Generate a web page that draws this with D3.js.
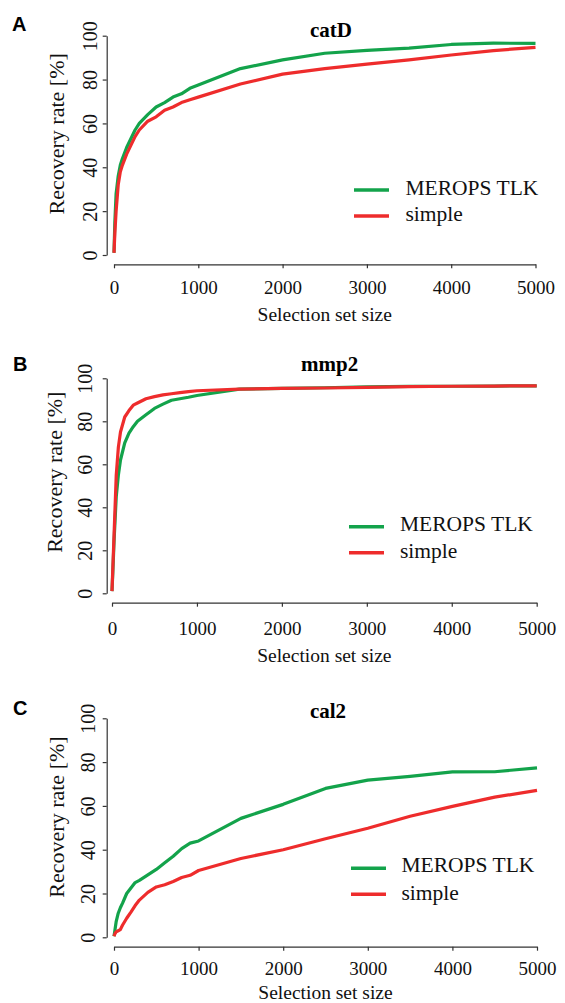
<!DOCTYPE html>
<html>
<head>
<meta charset="utf-8">
<script src="https://cdn.jsdelivr.net/npm/d3@7"></script>
<style>
  html, body { margin: 0; padding: 0; background: #fff; }
  svg { display: block; }
  .serif { font-family: "Liberation Serif", "Times New Roman", Times, serif; }
  .sans { font-family: "Liberation Sans", Arial, Helvetica, sans-serif; }
</style>
</head>
<body>
<svg id="chart" width="565" height="1003"></svg>
<script>
// ---------------- DATA ----------------
const setSizes = [0, 10, 25, 50, 75, 100, 150, 200, 250, 300, 400, 500, 600, 700, 800, 900, 1000, 1500, 2000, 2500, 3000, 3500, 4000, 4500, 5000];

const catD_merops = [1, 15, 28, 36, 41, 44, 49, 53, 57, 60, 64, 67.5, 69.5, 72, 73.5, 76, 77.5, 85, 89, 92, 93.3, 94.3, 96, 96.6, 96.5];
const catD_simple = [1, 10, 20, 32, 38, 41, 46, 50, 54, 57, 61, 63, 66, 67.5, 69.5, 70.8, 72, 78, 82.5, 85, 87, 89, 91.2, 93.2, 94.7];

const mmp2_merops = [1, 10, 25, 45, 55, 62, 70, 74.5, 77.5, 80, 83, 86, 88, 89.8, 90.5, 91.2, 92, 95, 95.3, 95.6, 96, 96.2, 96.3, 96.4, 96.5];
const mmp2_simple = [1, 12, 28, 55, 68, 75, 82, 85, 87.5, 88.5, 90.5, 91.5, 92.3, 92.8, 93.3, 93.8, 94.2, 95, 95.3, 95.5, 95.8, 96.1, 96.3, 96.4, 96.5];

const cal2_merops = [0.5, 3, 7, 11, 13.5, 15.5, 20, 22.5, 25, 26, 28.5, 31, 34, 37, 40.5, 43, 44, 54.3, 60.7, 68, 71.8, 73.5, 75.5, 75.6, 77.4];
const cal2_simple = [0.5, 1.5, 2.5, 3, 3.5, 5.5, 8.7, 11.5, 14.5, 17, 20.5, 23, 24, 25.5, 27.3, 28.3, 30.5, 36, 40, 45, 49.8, 55.3, 59.8, 64, 67.1];

const xTicks = [0, 1000, 2000, 3000, 4000, 5000];
const yTicks = [0, 20, 40, 60, 80, 100];
const seriesNames = ["MEROPS TLK", "simple"];
const panelLetters = ["A", "B", "C"];
const panelTitles = ["catD", "mmp2", "cal2"];
const xLabel = "Selection set size";
const yLabel = "Recovery rate [%]";

// ---------------- STYLE / LAYOUT ----------------
const colors = ["#13a34b", "#ee2c2c"];
const axisColor = "#333";

const layouts = [
  { x: [114, 535.5], y: [255, 35.7], xAxisY: 264.3, yAxisX: 106.7, xTickBase: 294.5, xLabBase: 321,
    yTickBase: 96.5, yLabBase: 64.3, yLabMid: 133.8, titleX: 331, titleBase: 36.7, letter: [12, 31],
    leg: { x1: 354, x2: 389, y: [190, 216], tx: 405.5, tb: [194.5, 221] } },
  { x: [112, 536.7], y: [593.3, 378.3], xAxisY: 602.7, yAxisX: 106.7, xTickBase: 635, xLabBase: 662,
    yTickBase: 91.5, yLabBase: 61.7, yLabMid: 472.2, titleX: 329.6, titleBase: 370.5, letter: [13, 371],
    leg: { x1: 349, x2: 384, y: [526.7, 552.7], tx: 400, tb: [530.5, 558] } },
  { x: [114, 537], y: [937.3, 718.3], xAxisY: 946.7, yAxisX: 106.7, xTickBase: 975, xLabBase: 998.5,
    yTickBase: 95, yLabBase: 64, yLabMid: 817, titleX: 328, titleBase: 718, letter: [13, 715],
    leg: { x1: 351, x2: 386, y: [868.3, 894.3], tx: 401.5, tb: [872, 899.5] } }
];

const panelSeries = [
  [catD_merops, catD_simple],
  [mmp2_merops, mmp2_simple],
  [cal2_merops, cal2_simple]
];

const svg = d3.select("#chart");

layouts.forEach((L, i) => {
  const g = svg.append("g");
  const x = d3.scaleLinear().domain([0, 5000]).range(L.x);
  const y = d3.scaleLinear().domain([0, 100]).range(L.y);

  // X axis
  const xAx = g.append("g")
    .attr("transform", `translate(0,${L.xAxisY})`)
    .call(d3.axisBottom(x).tickValues(xTicks).tickSize(4).tickSizeOuter(0).tickFormat(d3.format("d")));
  xAx.attr("font-family", null).attr("font-size", null);
  xAx.select(".domain").attr("stroke", axisColor).attr("stroke-width", 1.2).attr("fill", "none");
  xAx.selectAll(".tick line").attr("stroke", axisColor).attr("stroke-width", 1.2);
  xAx.selectAll(".tick text")
    .attr("y", L.xTickBase - L.xAxisY).attr("dy", null)
    .attr("class", "serif").style("font-size", "19px").attr("fill", "#111");

  // Y axis
  const yAx = g.append("g")
    .attr("transform", `translate(${L.yAxisX},0)`)
    .call(d3.axisLeft(y).tickValues(yTicks).tickSize(4).tickSizeOuter(0));
  yAx.attr("font-family", null).attr("font-size", null);
  yAx.select(".domain").attr("stroke", axisColor).attr("stroke-width", 1.2).attr("fill", "none");
  yAx.selectAll(".tick line").attr("stroke", axisColor).attr("stroke-width", 1.2);
  yAx.selectAll(".tick text")
    .attr("x", null).attr("dy", null)
    .attr("text-anchor", "middle")
    .attr("transform", `translate(${L.yTickBase - L.yAxisX},0) rotate(-90)`)
    .attr("class", "serif").style("font-size", "20px").attr("fill", "#111");

  // Lines
  const line = d3.line().x((d, k) => x(setSizes[k])).y(d => y(d));
  panelSeries[i].forEach((vals, s) => {
    g.append("path").datum(vals)
      .attr("d", line)
      .attr("fill", "none")
      .attr("stroke", colors[s])
      .attr("stroke-width", 3.2)
      .attr("stroke-linejoin", "round")
      .attr("stroke-linecap", "butt");
  });

  // Labels
  g.append("text").attr("x", (L.x[0] + L.x[1]) / 2).attr("y", L.xLabBase)
    .attr("text-anchor", "middle").attr("class", "serif").style("font-size", "19.5px")
    .attr("fill", "#111").text(xLabel);

  g.append("text")
    .attr("transform", `translate(${L.yLabBase},${L.yLabMid}) rotate(-90)`)
    .attr("text-anchor", "middle").attr("class", "serif").style("font-size", "22px")
    .attr("fill", "#111").text(yLabel);

  g.append("text").attr("x", L.titleX).attr("y", L.titleBase)
    .attr("text-anchor", "middle").attr("class", "serif").style("font-weight", "bold")
    .style("font-size", "21px").attr("fill", "#000").text(panelTitles[i]);

  g.append("text").attr("x", L.letter[0]).attr("y", L.letter[1])
    .attr("class", "sans").style("font-weight", "bold")
    .style("font-size", "20px").attr("fill", "#000").text(panelLetters[i]);

  // Legend
  seriesNames.forEach((name, s) => {
    g.append("line")
      .attr("x1", L.leg.x1).attr("x2", L.leg.x2)
      .attr("y1", L.leg.y[s]).attr("y2", L.leg.y[s])
      .attr("stroke", colors[s]).attr("stroke-width", 3.5);
    g.append("text").attr("x", L.leg.tx).attr("y", L.leg.tb[s])
      .attr("class", "serif").style("font-size", "21.5px").attr("fill", "#111")
      .text(name);
  });
});
</script>
</body>
</html>
